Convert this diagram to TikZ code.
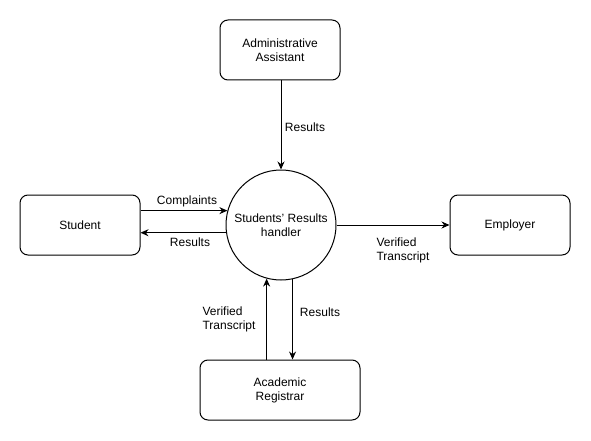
\documentclass[tikz,border=0pt]{standalone}
\usepackage{fontspec}
\setmainfont{Liberation Sans}
\usetikzlibrary{arrows.meta}
\begin{document}
\begin{tikzpicture}[x=1pt,y=-1pt,
  entity/.style={draw,line width=1pt,rounded corners=8pt,minimum width=120pt,minimum height=60pt,align=center,inner sep=0pt,font=\fontsize{12pt}{14pt}\selectfont},
  proc/.style={draw,line width=1pt,circle,minimum size=110pt,inner sep=0pt,align=center,font=\fontsize{12pt}{14pt}\selectfont},
  arr/.style={draw,line width=1pt,-{Stealth[length=8pt,width=7pt]}},
  lbl/.style={align=left,inner sep=0pt,font=\fontsize{12pt}{14pt}\selectfont}]
\useasboundingbox[fill=white] (0,0) rectangle (591,441);
\node[entity] (admin) at (280,50) {Administrative\\Assistant};
\node[entity] (student) at (80,225) {Student};
\node[entity] (employer) at (510,225) {Employer};
\node[entity,minimum width=160pt] (reg) at (280,390) {Academic\\Registrar};
\node[proc] (circ) at (281,225) {Students' Results\\handler};
\draw[arr] (admin.south -| circ.north) -- (circ.north);
\draw[arr] (student.east |- circ.165.3) -- (circ.165.3);
\draw[arr] (circ.188.4) -- (student.east |- circ.188.4);
\draw[arr] (circ.east) -- (employer.west);
\draw[arr] (reg.north -| circ.255.3) -- (circ.255.3);
\draw[arr] (circ.282.6) -- (reg.north -| circ.282.6);
\node[lbl] (l1) at (305,127) {Results};
\node[lbl] (l2) at (187,201) {Complaints};
\node[lbl] (l3) at (190,242) {Results};
\node[lbl] (l4) at (403,250) {Verified\\Transcript};
\node[lbl] (l5) at (229,319) {Verified\\Transcript};
\node[lbl] (l6) at (320,312) {Results};
\end{tikzpicture}
\end{document}
